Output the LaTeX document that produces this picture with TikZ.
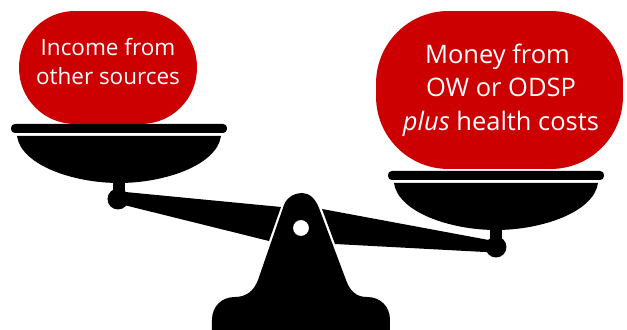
\documentclass[tikz,border=0pt]{standalone}
\usepackage{fontspec}
\setmainfont{Open Sans}
\definecolor{weightred}{HTML}{CC0000}
\tikzset{
  weight/.style={fill=weightred,inner sep=0pt,outer sep=0pt},
  caption/.style={text=white,align=center,inner sep=0pt,outer sep=0pt},
  plate/.style={fill=black,rounded corners=2.2pt,minimum width=4.32cm,minimum height=0.18cm,inner sep=0pt,outer sep=0pt}
}
\begin{document}
\begin{tikzpicture}[x=0.02cm, y=-0.02cm]
  \useasboundingbox (0,0) rectangle (627,330);
  % Left: other income
  \node[weight,rounded corners=1.12cm,minimum width=3.56cm,minimum height=2.26cm] (income) at (108,67.5) {};
  \node[caption,font=\fontsize{12.8}{17}\selectfont] (incomeText) at (108,61.5) {Income from\\other sources};
  \node[plate] (plateL) at (119,128.5) {};
  \fill (17,136) -- (221,136) .. controls (217,165) and (165,183) .. (119,183) .. controls (73,183) and (21,165) .. (17,136) -- cycle;
  \fill (113,180) rectangle (125,195);
  \fill (118,199) circle (10.5);
  \fill (120,191.5) -- (281,207) -- (269,241) -- (120,204) -- cycle;
  % Right: benefit money
  \node[weight,rounded corners=1.45cm,minimum width=4.94cm,minimum height=3.16cm] (money) at (499.5,90) {};
  \node[caption,font=\fontsize{14.5}{19}\selectfont] (moneyText) at (501,90) {Money from\kern4pt\\OW or ODSP\\\textit{plus} health costs};
  \node[plate] (plateR) at (496,175.5) {};
  \fill (394,183) -- (598,183) .. controls (594,212) and (542,230) .. (496,230) .. controls (450,230) and (398,212) .. (394,183) -- cycle;
  \fill (490,227) rectangle (502,242);
  \fill (496,247) circle (10.5);
  \fill (322,209) -- (494,241) -- (494,252.5) -- (335,244) -- cycle;
  % Middle: post and foot
  \fill[even odd rule] (212,330) -- (212,320) .. controls (212,306) and (222,297) .. (235,297)
    .. controls (246,297) and (254,291) .. (258,280) -- (284,205)
    .. controls (287,197) and (295,193) .. (302,193) .. controls (309,193) and (315,198) .. (319,208)
    -- (346,280) .. controls (350,291) and (356,297) .. (367,297)
    .. controls (380,297) and (390,306) .. (390,320) -- (390,330) -- cycle
    (301,228) circle (8);
\end{tikzpicture}
\end{document}
